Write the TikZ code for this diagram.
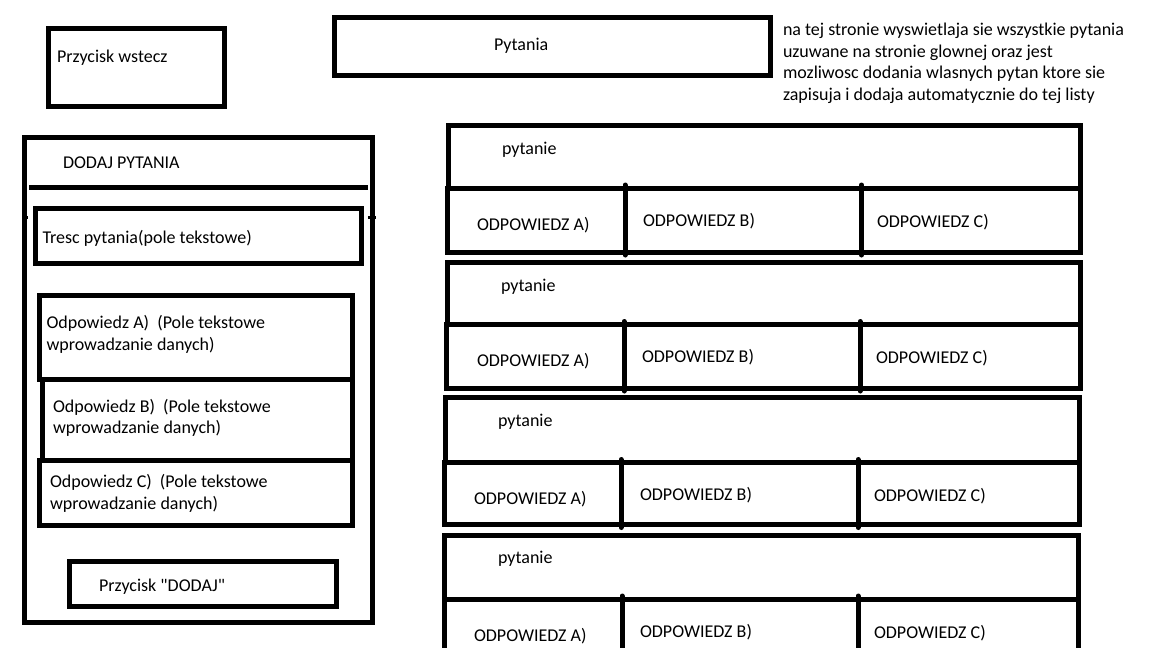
\documentclass[tikz,border=0pt]{standalone}
\usepackage{fontspec}
\setmainfont{Carlito}
\usetikzlibrary{fit}
\newcommand{\straightq}{\XeTeXglyph\XeTeXcharglyph"22\relax}
\begin{document}
\begin{tikzpicture}[x=1pt,y=-1pt,
  box/.style={draw=black,line width=5pt,inner sep=0pt,outer sep=0pt},
  txt/.style={inner sep=0pt,outer sep=0pt,anchor=base west,font=\fontsize{18pt}{21pt}\selectfont},
  divider/.style={draw=black,line width=5pt,line cap=round}]
\useasboundingbox[fill=white] (0,0) rectangle (1152,648);

% top left button
\node[box,fit={(48,28) (224,106)}] (wstecz) {};
\node[txt] (wsteczT) at (57,62) {Przycisk wstecz};

% title
\node[box,fit={(334,17) (770,75)}] (pytania) {};
\node[txt] (pytaniaT) at (494,50) {Pytania};

% description
\node[txt] (d1) at (783,35) {na tej stronie wyswietlaja sie wszystkie pytania};
\node[txt] (d2) at (783,57) {uzuwane na stronie glownej oraz jest};
\node[txt] (d3) at (783,78) {mozliwosc dodania wlasnych pytan ktore sie};
\node[txt] (d4) at (783,100) {zapisuja i dodaja automatycznie do tej listy};

% left panel
\node[box,fit={(24.5,137.5) (372.5,622.5)}] (panel) {};
\coordinate (hl) at (29,187);
\coordinate (hr) at (368,187);
\draw[black,line width=5pt] (hl) -- (hr);
\coordinate (nl1) at (22,217);
\coordinate (nl2) at (28,217);
\coordinate (nr1) at (368,217);
\coordinate (nr2) at (376,217);
\draw[black,line width=3pt] (nl1) -- (nl2);
\draw[black,line width=3pt] (nr1) -- (nr2);
\node[txt] (dodajT) at (63,168) {DODAJ PYTANIA};

\node[box,fit={(35.5,208.5) (361,263.5)}] (tresc) {};
\node[txt] (trescT) at (42.5,243) {Tresc pytania(pole tekstowe)};

\node[box,fit={(39,295) (352,379.5)}] (oa) {};
\node[box,fit={(42,379.5) (352,460.5)}] (ob) {};
\node[box,fit={(39,460.5) (352,525)}] (oc) {};
\node[txt] (oa1) at (46.5,328) {Odpowiedz A)\ \ (Pole tekstowe};
\node[txt] (oa2) at (46.5,350) {wprowadzanie danych)};
\node[txt] (ob1) at (53,412) {Odpowiedz B)\ \ (Pole tekstowe};
\node[txt] (ob2) at (53,433) {wprowadzanie danych)};
\node[txt] (oc1) at (50,487) {Odpowiedz C)\ \ (Pole tekstowe};
\node[txt] (oc2) at (50,509) {wprowadzanie danych)};

\node[box,fit={(69,561.5) (336,606)}] (dodajB) {};
\node[txt] (dodajBT) at (99,591) {Przycisk \straightq DODAJ\straightq};

% question cards
\foreach \n/\t/\m/\b/\la/\lb/\r/\da/\db/\px/\ax/\bx/\cx in {
  1/125.5/188/252/448/447/1080/625/861.5/502/477/643/877,
  2/262.5/324.5/388/447.5/446/1080/624/860/501/477/642/876,
  3/397.5/462.5/524.5/445/444.5/1079/621/858/498/474/640/874,
  4/535/599/665/444/444/1078/622/858/498/474/640/874}{
  \node[box,fit={(\la,\t) (\r,\m)}] (q\n) {};
  \node[box,fit={(\lb,\m) (\r,\b)}] (r\n) {};
  \coordinate (da\n t) at (\da,\m-3);
  \coordinate (da\n b) at (\da,\b+3);
  \coordinate (db\n t) at (\db,\m-3);
  \coordinate (db\n b) at (\db,\b+3);
  \draw[divider] (da\n t) -- (da\n b);
  \draw[divider] (db\n t) -- (db\n b);
  \node[txt] (qt\n) at (\px,\t+28.5) {pytanie};
  \node[txt] (at\n) at (\ax,\m+42) {ODPOWIEDZ A)};
  \node[txt] (bt\n) at (\bx,\m+38) {ODPOWIEDZ B)};
  \node[txt] (ct\n) at (\cx,\m+39) {ODPOWIEDZ C)};
}
\end{tikzpicture}
\end{document}
